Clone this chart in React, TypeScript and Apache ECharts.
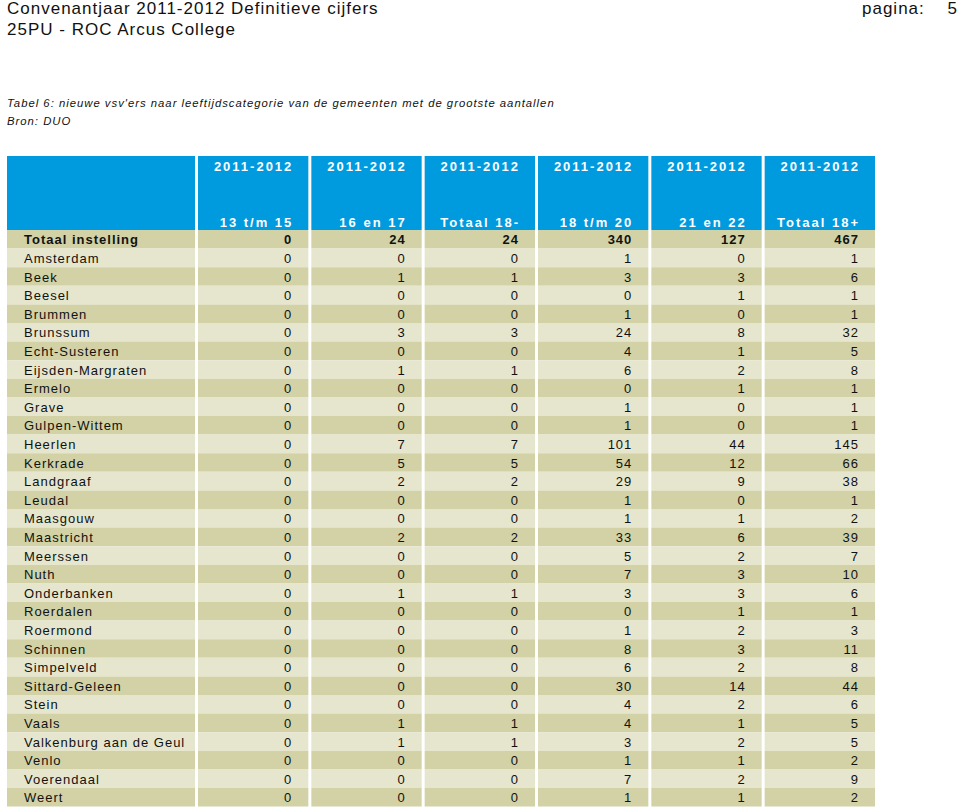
import React, { useEffect, useRef } from "react";
import * as echarts from "echarts";

const pageTitle = "Convenantjaar 2011-2012 Definitieve cijfers";
const pageSubtitle = "25PU - ROC Arcus College";
const pageLabel = "pagina:";
const pageNumber = "5";
const tableCaption =
  "Tabel 6: nieuwe vsv'ers naar leeftijdscategorie van de gemeenten met de grootste aantallen";
const tableSource = "Bron: DUO";

const columnYears = ["2011-2012", "2011-2012", "2011-2012", "2011-2012", "2011-2012", "2011-2012"];
const columnLabels = ["13 t/m 15", "16 en 17", "Totaal 18-", "18 t/m 20", "21 en 22", "Totaal 18+"];

const rowNames = [
  "Totaal instelling", "Amsterdam", "Beek", "Beesel", "Brummen", "Brunssum", "Echt-Susteren",
  "Eijsden-Margraten", "Ermelo", "Grave", "Gulpen-Wittem", "Heerlen", "Kerkrade", "Landgraaf",
  "Leudal", "Maasgouw", "Maastricht", "Meerssen", "Nuth", "Onderbanken", "Roerdalen", "Roermond",
  "Schinnen", "Simpelveld", "Sittard-Geleen", "Stein", "Vaals", "Valkenburg aan de Geul", "Venlo",
  "Voerendaal", "Weert",
];

const age13to15 = [0, 0, 0, 0, 0, 0, 0, 0, 0, 0, 0, 0, 0, 0, 0, 0, 0, 0, 0, 0, 0, 0, 0, 0, 0, 0, 0, 0, 0, 0, 0];
const age16to17 = [24, 0, 1, 0, 0, 3, 0, 1, 0, 0, 0, 7, 5, 2, 0, 0, 2, 0, 0, 1, 0, 0, 0, 0, 0, 0, 1, 1, 0, 0, 0];
const totalUnder18 = [24, 0, 1, 0, 0, 3, 0, 1, 0, 0, 0, 7, 5, 2, 0, 0, 2, 0, 0, 1, 0, 0, 0, 0, 0, 0, 1, 1, 0, 0, 0];
const age18to20 = [340, 1, 3, 0, 1, 24, 4, 6, 0, 1, 1, 101, 54, 29, 1, 1, 33, 5, 7, 3, 0, 1, 8, 6, 30, 4, 4, 3, 1, 7, 1];
const age21to22 = [127, 0, 3, 1, 0, 8, 1, 2, 1, 0, 0, 44, 12, 9, 0, 1, 6, 2, 3, 3, 1, 2, 3, 2, 14, 2, 1, 2, 1, 2, 1];
const total18plus = [467, 1, 6, 1, 1, 32, 5, 8, 1, 1, 1, 145, 66, 38, 1, 2, 39, 7, 10, 6, 1, 3, 11, 8, 44, 6, 5, 5, 2, 9, 2];

const columns = [age13to15, age16to17, totalUnder18, age18to20, age21to22, total18plus];

const FONT = '"Liberation Sans", Arial, Helvetica, sans-serif';
const BLUE = "#009ade";
const ROW_DARK = "#d2d2a6";
const ROW_LIGHT = "#e6e6ce";
const TEXT = "#111111";

function applySpacing(root: HTMLElement) {
  root.querySelectorAll("text").forEach((t) => {
    const fill = (t.getAttribute("fill") || "").toLowerCase();
    const sp = fill.indexOf("#ffffff") >= 0 || fill.indexOf("255") >= 0 ? 2 : 1;
    t.setAttribute("letter-spacing", sp + "px");
    const anchor = t.getAttribute("text-anchor");
    if (anchor === "end") t.setAttribute("dx", String(sp));
    else if (anchor === "middle") t.setAttribute("dx", String(sp / 2));
  });
}

export default function App() {
  const ref = useRef<HTMLDivElement>(null);

  useEffect(() => {
    if (!ref.current) return;
    const el = ref.current;
    const chart = echarts.init(el, undefined, { renderer: "svg" });

    const valueData: number[][] = [];
    columns.forEach((col, c) => {
      col.forEach((v, r) => valueData.push([c, r, v]));
    });

    const option: any = {
      animation: false,
      backgroundColor: "#ffffff",
      grid: [
        { left: 7, width: 188, top: 156, height: 74 },
        { left: 196.5, width: 680, top: 156, height: 74 },
        { left: 7, width: 188, top: 230, height: 576.6 },
        { left: 196.5, width: 680, top: 230, height: 576.6 },
      ],
      xAxis: [
        { gridIndex: 0, type: "value", min: 0, max: 1, show: false },
        { gridIndex: 1, type: "category", data: columnLabels, show: false },
        { gridIndex: 2, type: "value", min: 0, max: 1, show: false },
        { gridIndex: 3, type: "category", data: columnLabels, show: false },
      ],
      yAxis: [
        { gridIndex: 0, type: "value", min: 0, max: 1, show: false },
        { gridIndex: 1, type: "value", min: 0, max: 1, show: false },
        { gridIndex: 2, type: "category", data: rowNames, inverse: true, show: false },
        { gridIndex: 3, type: "category", data: rowNames, inverse: true, show: false },
      ],
      graphic: [
        { type: "text", style: { text: pageTitle, x: 7, y: 8.3, font: `17px ${FONT}`, fill: TEXT, verticalAlign: "middle" } },
        { type: "text", style: { text: pageSubtitle, x: 7, y: 29.5, font: `17px ${FONT}`, fill: TEXT, verticalAlign: "middle" } },
        { type: "text", style: { text: pageLabel, x: 862, y: 8.3, font: `17px ${FONT}`, fill: TEXT, verticalAlign: "middle" } },
        { type: "text", style: { text: pageNumber, x: 957, y: 8.3, font: `17px ${FONT}`, fill: TEXT, align: "right", verticalAlign: "middle" } },
        { type: "text", style: { text: tableCaption, x: 7, y: 102.5, font: `italic 11.3px ${FONT}`, fill: TEXT, verticalAlign: "middle" } },
        { type: "text", style: { text: tableSource, x: 7, y: 121, font: `italic 11.3px ${FONT}`, fill: TEXT, verticalAlign: "middle" } },
      ],
      series: [
        {
          type: "custom",
          xAxisIndex: 0,
          yAxisIndex: 0,
          data: [[0, 0]],
          silent: true,
          renderItem: (params: any, api: any) => {
            const p0 = api.coord([0, 1]);
            const p1 = api.coord([1, 0]);
            return {
              type: "rect",
              shape: { x: p0[0], y: p0[1], width: p1[0] - p0[0], height: p1[1] - p0[1] },
              style: { fill: BLUE },
            };
          },
        },
        {
          type: "custom",
          xAxisIndex: 1,
          yAxisIndex: 1,
          data: columnLabels.map((_, c) => [c, 1]),
          silent: true,
          renderItem: (params: any, api: any) => {
            const c = api.value(0);
            const top = api.coord([c, 1]);
            const bottom = api.coord([c, 0]);
            const bw = api.size([1, 0])[0];
            const x0 = top[0] - bw / 2 + 1.5;
            const w = bw - 3;
            const right = x0 + w - 17;
            return {
              type: "group",
              children: [
                { type: "rect", shape: { x: x0, y: top[1], width: w, height: bottom[1] - top[1] }, style: { fill: BLUE } },
                {
                  type: "text",
                  style: {
                    text: columnYears[params.dataIndex], x: right, y: top[1] + 10, font: `bold 13px ${FONT}`,
                    fill: "#ffffff", align: "right", verticalAlign: "middle",
                  },
                },
                {
                  type: "text",
                  style: {
                    text: columnLabels[params.dataIndex], x: right, y: bottom[1] - 7.5, font: `bold 13px ${FONT}`,
                    fill: "#ffffff", align: "right", verticalAlign: "middle",
                  },
                },
              ],
            };
          },
        },
        {
          type: "custom",
          xAxisIndex: 2,
          yAxisIndex: 2,
          data: rowNames.map((_, r) => [0, r]),
          silent: true,
          renderItem: (params: any, api: any) => {
            const r = api.value(1);
            const a = api.coord([0, r]);
            const b = api.coord([1, r]);
            const bh = api.size([0, 1])[1];
            return {
              type: "group",
              children: [
                { type: "rect", shape: { x: a[0], y: a[1] - bh / 2, width: b[0] - a[0], height: bh }, style: { fill: r % 2 === 0 ? ROW_DARK : ROW_LIGHT } },
                {
                  type: "text",
                  style: {
                    text: rowNames[params.dataIndex], x: a[0] + 17, y: a[1] + 0.5,
                    font: `${r === 0 ? "bold " : ""}13px ${FONT}`, fill: TEXT, verticalAlign: "middle",
                  },
                },
              ],
            };
          },
        },
        {
          type: "custom",
          xAxisIndex: 3,
          yAxisIndex: 3,
          data: valueData,
          silent: true,
          renderItem: (params: any, api: any) => {
            const c = api.value(0);
            const r = api.value(1);
            const v = api.value(2);
            const p = api.coord([c, r]);
            const s = api.size([1, 1]);
            const x0 = p[0] - s[0] / 2 + 1.5;
            const w = s[0] - 3;
            return {
              type: "group",
              children: [
                { type: "rect", shape: { x: x0, y: p[1] - s[1] / 2, width: w, height: s[1] }, style: { fill: r % 2 === 0 ? ROW_DARK : ROW_LIGHT } },
                {
                  type: "text",
                  style: {
                    text: String(v), x: x0 + w - 17, y: p[1] + 0.5,
                    font: `${r === 0 ? "bold " : ""}13px ${FONT}`, fill: TEXT, align: "right", verticalAlign: "middle",
                  },
                },
              ],
            };
          },
        },
      ],
    };

    chart.setOption(option);
    applySpacing(el);
    chart.on("finished", () => applySpacing(el));
    const t = window.setTimeout(() => applySpacing(el), 50);

    return () => {
      window.clearTimeout(t);
      chart.dispose();
    };
  }, []);

  return (
    <div
      ref={ref}
      style={{ position: "absolute", left: 0, top: 0, width: 960, height: 807, background: "#fff" }}
    />
  );
}
